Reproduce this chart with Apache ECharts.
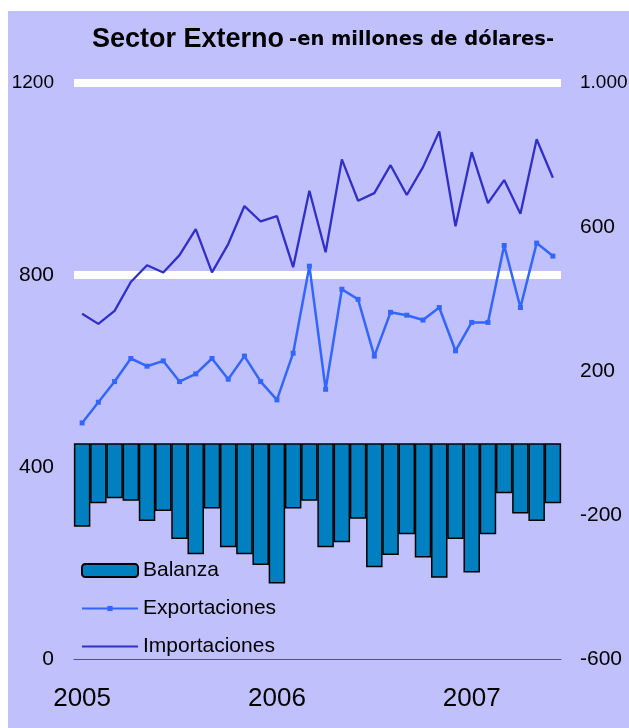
<!DOCTYPE html>
<html>
<head>
<meta charset="utf-8">
<script src="https://cdn.jsdelivr.net/npm/echarts@6/dist/echarts.min.js"></script>
<style>
  html, body { margin: 0; padding: 0; background: #ffffff; }
  #chart { width: 629px; height: 728px; }
</style>
</head>
<body>
<div id="chart"></div>
<script>
// Monthly external-sector figures, Jan 2005 – Jun 2007 (millions of dollars)
const months = [
  'Ene 2005', 'Feb 2005', 'Mar 2005', 'Abr 2005', 'May 2005', 'Jun 2005',
  'Jul 2005', 'Ago 2005', 'Sep 2005', 'Oct 2005', 'Nov 2005', 'Dic 2005',
  'Ene 2006', 'Feb 2006', 'Mar 2006', 'Abr 2006', 'May 2006', 'Jun 2006',
  'Jul 2006', 'Ago 2006', 'Sep 2006', 'Oct 2006', 'Nov 2006', 'Dic 2006',
  'Ene 2007', 'Feb 2007', 'Mar 2007', 'Abr 2007', 'May 2007', 'Jun 2007'
];

const balanza = [
  -232, -167, -153, -160, -216, -188, -266, -308, -181, -289, -308, -338,
  -389, -181, -160, -289, -275, -210, -344, -310, -253, -317, -373, -266,
  -359, -253, -139, -195, -216, -167
];

const exportaciones = [
  492, 535, 578, 626, 610, 621, 578, 594, 626, 583, 631, 578,
  540, 637, 818, 562, 770, 749, 631, 722, 716, 706, 732, 642,
  701, 701, 861, 732, 866, 839
];

const importaciones = [
  719, 698, 725, 785, 820, 805, 841, 895, 805, 864, 943, 911,
  922, 816, 975, 847, 1040, 954, 970, 1028, 966, 1024, 1098, 901,
  1055, 949, 997, 927, 1082, 1002
];

// Left-axis levels that get a white guide line
const guideLevels = [800, 1200];

// Axis ranges
const leftAxis = { min: 0, max: 1200, interval: 400 };
const rightAxis = { min: -600, max: 1000, interval: 400 };

const FONT = '"Liberation Sans", Arial, sans-serif';

// Small square marker padded inside a 10x10 box, so it stays small in the legend too
const DOT = 'path://M0 0M10 10M2.5 2.5H7.5V7.5H2.5Z';

function thousands(v) {
  return String(v).replace(/\B(?=(\d{3})+(?!\d))/g, '.');
}

// Four-digit labels are set a touch narrower so they fit beside the plot
function tickLabel(text) {
  return text.replace(/\D/g, '').length >= 4 ? '{w|' + text + '}' : text;
}

const labelRich = { w: { fontFamily: FONT, fontSize: 19, color: '#000000' } };

const chart = echarts.init(document.getElementById('chart'), null, { renderer: 'canvas' });

chart.setOption({
  animation: false,
  backgroundColor: '#ffffff',
  graphic: [{
    type: 'rect',
    z: -10,
    silent: true,
    shape: { x: 8, y: 11, width: 621, height: 717 },
    style: { fill: '#C0C0FC' }
  }],
  title: {
    left: 87,
    top: 21,
    text: '{a|Sector Externo} {b|-en millones de dólares-}',
    textStyle: {
      rich: {
        a: { fontFamily: FONT, fontSize: 27, fontWeight: 'bold', color: '#000000' },
        b: { fontFamily: '"DejaVu Sans", sans-serif', fontSize: 19.5, fontWeight: 'bold', color: '#000000' }
      }
    }
  },
  legend: {
    orient: 'vertical',
    left: 76,
    top: 555,
    itemWidth: 56,
    itemHeight: 13,
    itemGap: 17,
    textStyle: { fontFamily: FONT, fontSize: 21, color: '#000000' },
    data: [
      'Balanza',
      'Exportaciones',
      { name: 'Importaciones', itemStyle: { opacity: 0 } }
    ]
  },
  grid: { left: 74, right: 68, top: 82.5, bottom: 68.5, outerBoundsMode: 'none', containLabel: false },
  xAxis: {
    type: 'category',
    data: months,
    boundaryGap: true,
    axisLine: { lineStyle: { color: '#555555', width: 1 } },
    axisTick: { interval: 11, length: 7, lineStyle: { color: '#555555' } },
    axisLabel: {
      interval: 11,
      margin: 26,
      fontFamily: FONT,
      fontSize: 26,
      color: '#000000',
      formatter: v => v.slice(-4)
    },
    splitLine: { show: false }
  },
  yAxis: [
    {
      type: 'value',
      position: 'left',
      min: leftAxis.min,
      max: leftAxis.max,
      interval: leftAxis.interval,
      axisLine: { show: false },
      axisTick: { show: false },
      splitLine: { show: false },
      axisLabel: {
        margin: 20,
        fontFamily: FONT,
        fontSize: 21,
        color: '#000000',
        rich: labelRich,
        formatter: v => tickLabel(String(v))
      }
    },
    {
      type: 'value',
      position: 'right',
      min: rightAxis.min,
      max: rightAxis.max,
      interval: rightAxis.interval,
      axisLine: { show: false },
      axisTick: { show: false },
      splitLine: { show: false },
      axisLabel: {
        margin: 19,
        fontFamily: FONT,
        fontSize: 21,
        color: '#000000',
        rich: labelRich,
        formatter: v => tickLabel(thousands(v))
      }
    }
  ],
  series: [
    {
      name: 'Balanza',
      type: 'bar',
      yAxisIndex: 1,
      data: balanza,
      barWidth: 16.5,
      itemStyle: { color: '#0080C0', borderColor: '#000000', borderWidth: 1.5 }
    },
    {
      name: 'Exportaciones',
      type: 'line',
      yAxisIndex: 0,
      data: exportaciones,
      symbol: DOT,
      symbolSize: 10,
      itemStyle: { color: '#3366FF' },
      lineStyle: { color: '#3366FF', width: 2.5 }
    },
    {
      name: 'Importaciones',
      type: 'line',
      yAxisIndex: 0,
      data: importaciones,
      symbol: 'none',
      itemStyle: { color: '#3030C8' },
      lineStyle: { color: '#3030C8', width: 2.3 },
      markLine: {
        z: 1,
        silent: true,
        symbol: 'none',
        label: { show: false },
        lineStyle: { color: '#ffffff', width: 8, type: 'solid' },
        data: guideLevels.map(v => ({ yAxis: v }))
      }
    }
  ]
});
</script>
</body>
</html>
